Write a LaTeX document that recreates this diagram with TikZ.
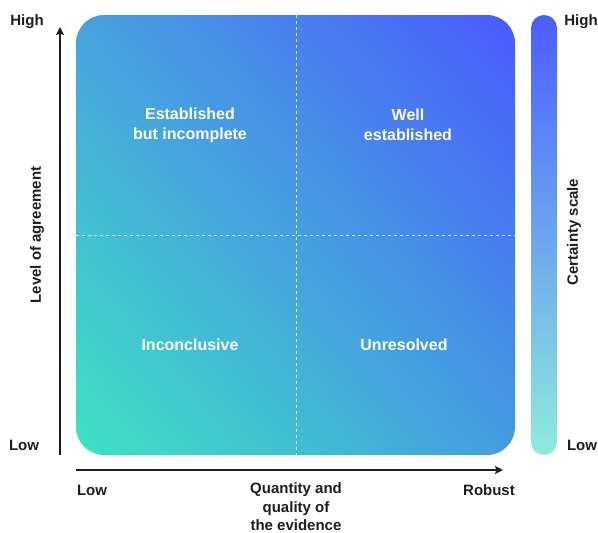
\documentclass[tikz,border=0pt]{standalone}
\usepackage{fontspec}
\setmainfont{Liberation Sans}
\usetikzlibrary{arrows.meta,shadings}
\definecolor{cTR}{HTML}{4A5BFF}
\definecolor{cBL}{HTML}{3EE3C2}
\definecolor{cTL}{HTML}{47A2DE}
\definecolor{cBR}{HTML}{449CE0}
\definecolor{barTop}{HTML}{4C5CFF}
\definecolor{barBot}{HTML}{8EECDC}
\definecolor{ink}{HTML}{1E1E1E}
\tikzset{
  axislabel/.style={font=\bfseries\fontsize{15}{17}\selectfont, text=ink, inner sep=0pt},
  quadlabel/.style={font=\bfseries\fontsize{16}{20}\selectfont, text=white, align=center, inner sep=0pt},
  axisline/.style={draw=ink, line width=1.6pt, -{Stealth[length=8pt,width=8pt,inset=1.5pt]}},
  divider/.style={draw=white, opacity=0.8, line width=0.8pt, dash pattern=on 3pt off 3pt}
}
\begin{document}
\begin{tikzpicture}[x=1pt,y=-1pt]
\useasboundingbox (0,0) rectangle (598,533);
% main box
\shade[upper left=cTL, upper right=cTR, lower left=cBL, lower right=cBR, rounded corners=28pt]
  (76,15) rectangle (515,455);
\coordinate (vtop) at (296,15);
\coordinate (vbot) at (296,455);
\coordinate (hl) at (76,235);
\coordinate (hr) at (515,235);
\draw[divider] (vtop) -- (vbot);
\draw[divider] (hl) -- (hr);
% certainty bar
\shade[top color=barTop, bottom color=barBot, rounded corners=13pt]
  (531,15) rectangle (557,455);
% axes
\coordinate (yb) at (60,455);
\coordinate (yt) at (60,27);
\coordinate (xl) at (76,470);
\coordinate (xr) at (503,470);
\draw[axisline] (yb) -- (yt);
\draw[axisline] (xl) -- (xr);
% axis labels
\node[axislabel] (yhigh) at (27,22) {High};
\node[axislabel] (ylow) at (24,445) {Low};
\node[axislabel, rotate=90] (ylab) at (37,235) {Level of agreement};
\node[axislabel] (chigh) at (581,22) {High};
\node[axislabel] (clow) at (582,445) {Low};
\node[axislabel, rotate=90] (clab) at (574,232) {Certainty scale};
\node[axislabel] (xlow) at (92,490) {Low};
\node[axislabel] (xrob) at (489,490) {Robust};
\node[axislabel, align=center, font=\bfseries\fontsize{15}{18.5}\selectfont] (xlab) at (296,507) {Quantity and\\quality of\\the evidence};
% quadrant labels
\node[quadlabel] (q1) at (190,125) {Established\\but incomplete};
\node[quadlabel] (q2) at (408,125) {Well\\established};
\node[quadlabel] (q3) at (190,345) {Inconclusive};
\node[quadlabel] (q4) at (404,345) {Unresolved};
\end{tikzpicture}
\end{document}
